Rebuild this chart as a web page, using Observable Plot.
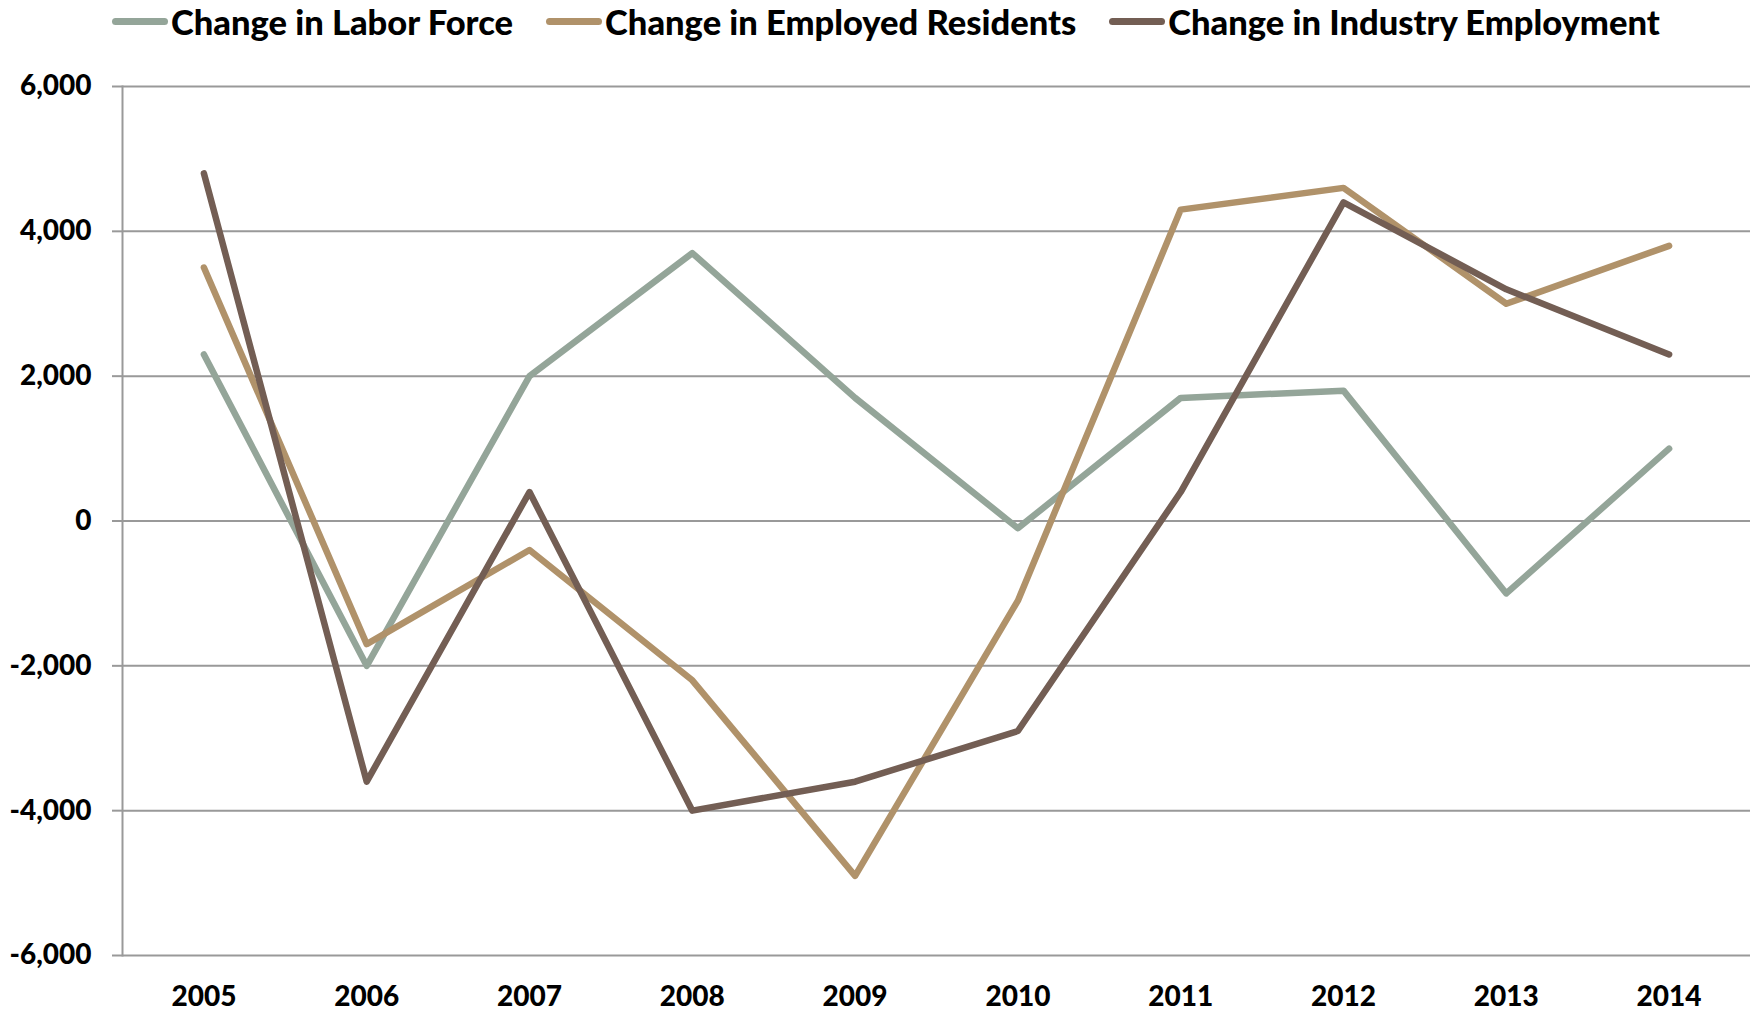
<!DOCTYPE html>
<html>
<head>
<meta charset="utf-8">
<script src="https://cdn.jsdelivr.net/npm/d3@7"></script>
<script src="https://cdn.jsdelivr.net/npm/@observablehq/plot@0.6"></script>
<style>
  html, body { margin: 0; padding: 0; background: #fff; }
  #wrap { position: relative; width: 1752px; height: 1010px; font-family: Lato, "Open Sans", sans-serif; }
  #legend { position: absolute; left: 112px; top: 0; height: 42px; display: flex; align-items: center; font-weight: 900; font-size: 34.5px; color: #000; white-space: nowrap; }
  .item { display: flex; align-items: center; margin-right: 33px; }
  .sw { width: 56px; height: 7px; border-radius: 4px; margin-right: 3px; }
  #chart { position: absolute; left: 0; top: 45px; }
  #chart svg { overflow: visible; }
</style>
</head>
<body>
<div id="wrap">
  <div id="legend"></div>
  <div id="chart"></div>
</div>
<script>
const years = ["2005","2006","2007","2008","2009","2010","2011","2012","2013","2014"];
const seriesNames = ["Change in Labor Force", "Change in Employed Residents", "Change in Industry Employment"];
const seriesColors = ["#94A599", "#B0926A", "#735E54"];
const laborForce = [2300, -2000, 2000, 3700, 1700, -100, 1700, 1800, -1000, 1000];
const employedResidents = [3500, -1700, -400, -2200, -4900, -1100, 4300, 4600, 3000, 3800];
const industryEmployment = [4800, -3600, 400, -4000, -3600, -2900, 400, 4400, 3200, 2300];
const yTicks = [-6000, -4000, -2000, 0, 2000, 4000, 6000];

const seriesValues = [laborForce, employedResidents, industryEmployment];
const data = seriesNames.flatMap((name, i) =>
  years.map((yr, j) => ({series: name, year: yr, value: seriesValues[i][j]})));

// legend
const legend = document.getElementById("legend");
seriesNames.forEach((name, i) => {
  const it = document.createElement("div");
  it.className = "item";
  const sw = document.createElement("div");
  sw.className = "sw";
  sw.style.background = seriesColors[i];
  const tx = document.createElement("span");
  tx.textContent = name;
  it.appendChild(sw); it.appendChild(tx);
  legend.appendChild(it);
});

const fmt = d3.formatLocale({decimal: ".", thousands: ",", grouping: [3], currency: ["", ""], minus: "-"}).format(",");

const chart = Plot.plot({
  width: 1752,
  height: 965,
  marginLeft: 122,
  marginRight: 2,
  marginTop: 41,
  marginBottom: 55,
  style: {fontFamily: "Lato, 'Open Sans', sans-serif", fontSize: "28px", fontWeight: "900", color: "#000", background: "transparent"},
  x: {type: "point", domain: years, padding: 0.5, round: false},
  y: {domain: [-6000, 6000]},
  color: {domain: seriesNames, range: seriesColors},
  marks: [
    Plot.gridY(yTicks, {stroke: "#999999", strokeOpacity: 1, strokeWidth: 2}),
    Plot.frame({anchor: "left", stroke: "#999999", strokeWidth: 2}),
    Plot.axisY(yTicks, {tickSize: 10, tickPadding: 21, tickFormat: fmt, stroke: "#999999", strokeWidth: 2, fill: "#000", label: null, fontSize: 28, fontWeight: "900"}),
    Plot.axisX({tickSize: 0, tickPadding: 31, label: null, fill: "#000", fontSize: 28, fontWeight: "900"}),
    Plot.line(data, {x: "year", y: "value", z: "series", stroke: "series", strokeWidth: 6.5, strokeLinecap: "round", strokeLinejoin: "round"})
  ]
});
document.getElementById("chart").appendChild(chart);
</script>
</body>
</html>
